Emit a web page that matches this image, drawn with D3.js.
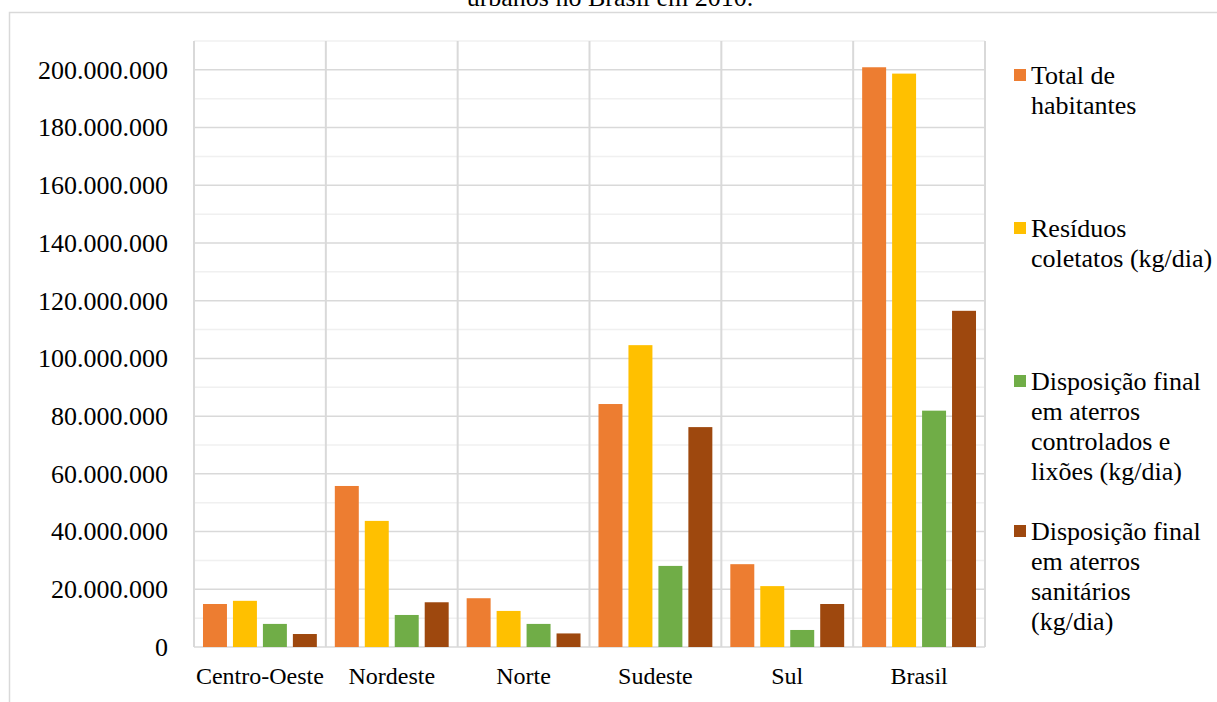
<!DOCTYPE html>
<html>
<head>
<meta charset="utf-8">
<script src="https://cdn.jsdelivr.net/npm/d3@7"></script>
<style>
  body { margin: 0; background: #fff; }
  svg { display: block; }
  svg text { font-family: "Liberation Serif", "Times New Roman", serif; }
</style>
</head>
<body>
<svg></svg>
<script>
// data
const categories = ['Centro-Oeste', 'Nordeste', 'Norte', 'Sudeste', 'Sul', 'Brasil']
const seriesNames = [
  ['Total de', 'habitantes'],
  ['Resíduos', 'coletatos (kg/dia)'],
  ['Disposição final', 'em aterros', 'controlados e', 'lixões (kg/dia)'],
  ['Disposição final', 'em aterros', 'sanitários', '(kg/dia)']
]
const totalHabitantes = [14.9e6, 55.8e6, 16.9e6, 84.2e6, 28.7e6, 200.9e6]
const residuosColetados = [16.0e6, 43.7e6, 12.5e6, 104.6e6, 21.1e6, 198.7e6]
const aterrosControlados = [8.0e6, 11.1e6, 8.0e6, 28.1e6, 5.9e6, 81.9e6]
const aterrosSanitarios = [4.5e6, 15.5e6, 4.7e6, 76.2e6, 14.9e6, 116.5e6]
const yTicks = [0, 20e6, 40e6, 60e6, 80e6, 100e6, 120e6, 140e6, 160e6, 180e6, 200e6]
const yMinorTicks = [10e6, 30e6, 50e6, 70e6, 90e6, 110e6, 130e6, 150e6, 170e6, 190e6, 210e6]

const colors = ['#ED7D31', '#FFC000', '#70AD47', '#9E480E']
const series = [totalHabitantes, residuosColetados, aterrosControlados, aterrosSanitarios]

// size
const svgWidth = 1217
const svgHeight = 702
const margin = {left: 194, right: 232, top: 41, bottom: 55}
const plotW = svgWidth - margin.left - margin.right
const plotH = svgHeight - margin.top - margin.bottom

const svg = d3.select('svg')
  .attr('width', svgWidth)
  .attr('height', svgHeight)

// outer chart border (cut off at right and bottom)
svg.append('path')
  .attr('d', 'M9.5,' + svgHeight + 'V12.5H' + svgWidth)
  .attr('fill', 'none')
  .attr('stroke', '#d9d9d9')
  .attr('stroke-width', 1.5)

// title (only its second line is visible)
svg.append('text')
  .attr('x', 610)
  .attr('y', 6)
  .attr('text-anchor', 'middle')
  .attr('font-size', 26)
  .text('urbanos no Brasil em 2010.')

const g = svg.append('g').attr('transform', 'translate(' + margin.left + ',' + margin.top + ')')

// scales
const x0 = d3.scaleBand()
  .domain(categories)
  .range([0, plotW])
  .paddingInner(18 / 132)
  .paddingOuter(9 / 132)

const x1 = d3.scaleBand()
  .domain(d3.range(series.length))
  .range([0, x0.bandwidth()])
  .paddingInner(0.2)

const yScale = d3.scaleLinear()
  .domain([0, 210e6])
  .range([plotH, 0])

// minor gridlines
g.selectAll('.minor')
  .data(yMinorTicks)
  .enter()
  .append('line')
  .attr('x1', 0)
  .attr('x2', plotW)
  .attr('y1', d => yScale(d))
  .attr('y2', d => yScale(d))
  .attr('stroke', '#f0f0f0')
  .attr('stroke-width', 1.5)

// major gridlines
g.selectAll('.major')
  .data(yTicks)
  .enter()
  .append('line')
  .attr('x1', 0)
  .attr('x2', plotW)
  .attr('y1', d => yScale(d))
  .attr('y2', d => yScale(d))
  .attr('stroke', '#d9d9d9')
  .attr('stroke-width', 1.5)

// vertical category separators
const step = x0.step()
g.selectAll('.sep')
  .data(d3.range(categories.length + 1))
  .enter()
  .append('line')
  .attr('x1', i => i * step)
  .attr('x2', i => i * step)
  .attr('y1', 0)
  .attr('y2', plotH)
  .attr('stroke', '#d9d9d9')
  .attr('stroke-width', 2)

// y axis labels
const fmt = d3.formatLocale({decimal: ',', thousands: '.', grouping: [3], currency: ['R$', '']}).format(',d')
const yAxis = d3.axisLeft(yScale).tickValues(yTicks).tickFormat(fmt).tickSize(0).tickPadding(26)
const ya = g.append('g').call(yAxis)
ya.attr('font-family', null)
ya.select('.domain').remove()
ya.selectAll('text')
  .attr('font-size', 26)
  .attr('fill', '#000')

// bars
const groups = g.selectAll('.grp')
  .data(categories)
  .enter()
  .append('g')
  .attr('transform', d => 'translate(' + x0(d) + ',0)')

groups.selectAll('rect')
  .data((d, i) => series.map((s, k) => ({k: k, v: s[i]})))
  .enter()
  .append('rect')
  .attr('x', d => x1(d.k))
  .attr('width', x1.bandwidth())
  .attr('y', d => yScale(d.v))
  .attr('height', d => plotH - yScale(d.v))
  .attr('fill', d => colors[d.k])

// x axis labels
const xAxis = d3.axisBottom(x0).tickSize(0).tickPadding(20)
const xa = g.append('g').attr('transform', 'translate(0,' + plotH + ')').call(xAxis)
xa.attr('font-family', null)
xa.select('.domain').remove()
xa.selectAll('text')
  .attr('font-size', 24)
  .attr('fill', '#000')

// legend
const legendY = [75, 228, 381, 531]
const legend = svg.selectAll('.leg')
  .data(seriesNames)
  .enter()
  .append('g')
  .attr('transform', (d, i) => 'translate(1014,' + legendY[i] + ')')

legend.append('rect')
  .attr('x', 0)
  .attr('y', -6)
  .attr('width', 12)
  .attr('height', 12)
  .attr('fill', (d, i) => colors[i])

legend.append('text')
  .attr('font-size', 26)
  .selectAll('tspan')
  .data(d => d)
  .enter()
  .append('tspan')
  .attr('x', 17)
  .attr('y', (d, i) => i * 30 + 9)
  .text(d => d)
</script>
</body>
</html>
